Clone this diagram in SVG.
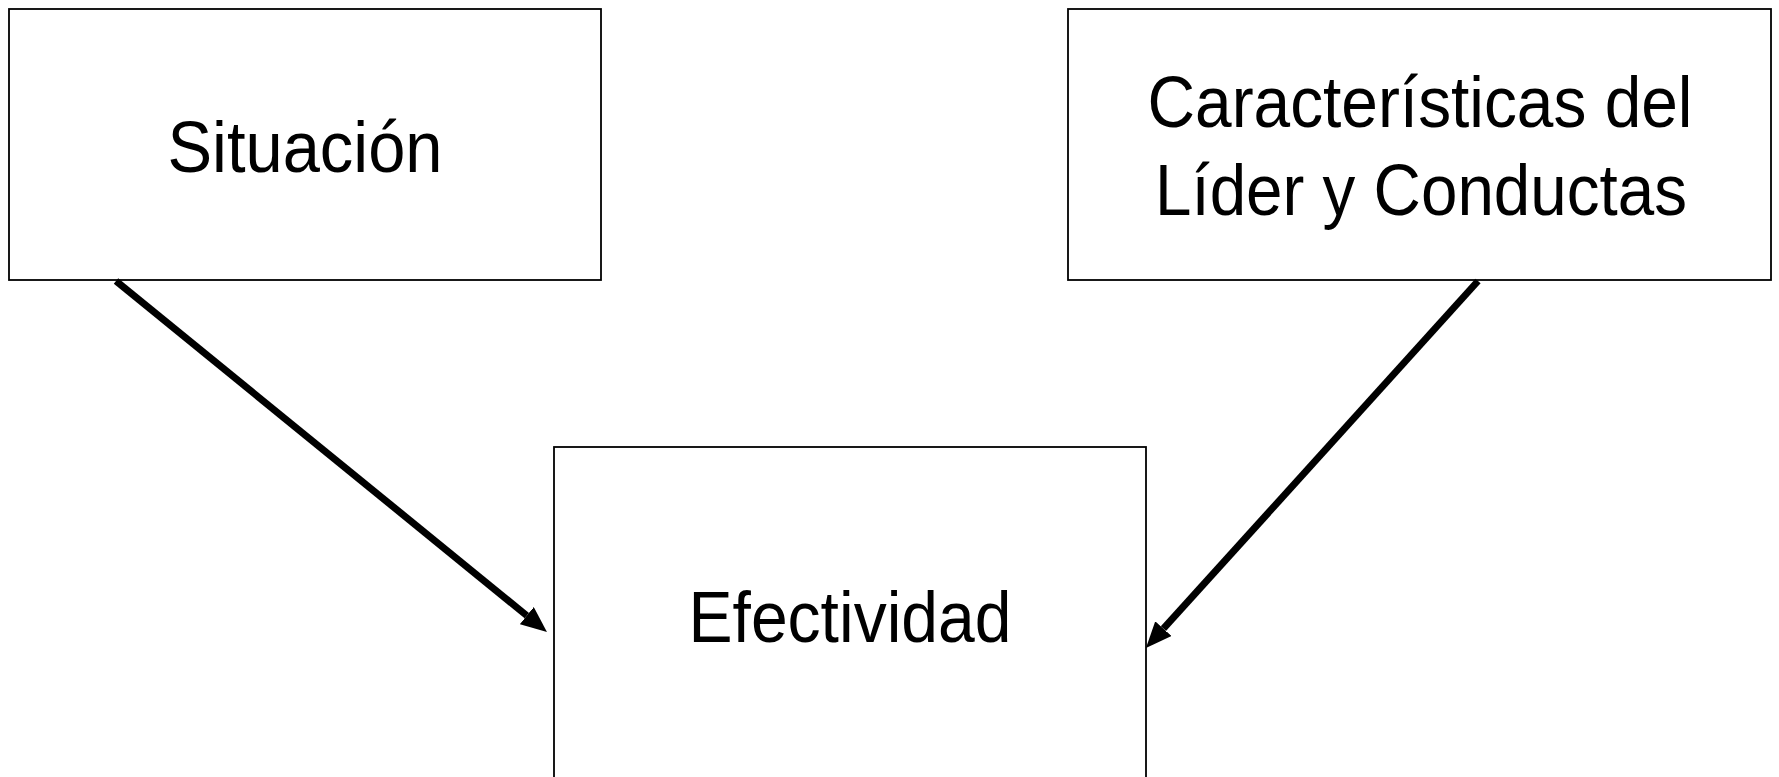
<svg xmlns="http://www.w3.org/2000/svg" width="1779" height="777" viewBox="0 0 1779 777">
<style>
.box{fill:#fff;stroke:#000;stroke-width:1.8}
.lbl{font-family:"Liberation Sans",Arial,sans-serif;font-size:72px;fill:#000;text-anchor:middle}
.conn{stroke:#000;stroke-width:7;fill:none}
</style>
<defs>
<marker id="ah" markerUnits="userSpaceOnUse" viewBox="0 0 26 22" markerWidth="26" markerHeight="22" refX="0" refY="11" orient="auto">
<path d="M0,0 L26,11 L0,22 z" fill="#000"/>
</marker>
</defs>
<rect width="1779" height="777" fill="#fff"/>
<g id="node-situacion">
<rect class="box" x="9" y="9" width="592" height="271"/>
<text class="lbl" x="305" y="172" textLength="275" lengthAdjust="spacingAndGlyphs">Situación</text>
</g>
<g id="node-caracteristicas">
<rect class="box" x="1068" y="9" width="703" height="271"/>
<text class="lbl" x="1420" y="127" textLength="545" lengthAdjust="spacingAndGlyphs">Características del</text>
<text class="lbl" x="1421" y="215" textLength="532" lengthAdjust="spacingAndGlyphs">Líder y Conductas</text>
</g>
<g id="node-efectividad">
<rect class="box" x="554" y="447" width="592" height="360"/>
<text class="lbl" x="850" y="642" textLength="323" lengthAdjust="spacingAndGlyphs">Efectividad</text>
</g>
<g id="connectors">
<line class="conn" x1="116" y1="281" x2="526.8" y2="615.6" marker-end="url(#ah)"/>
<line class="conn" x1="1478" y1="281" x2="1163.4" y2="628.7" marker-end="url(#ah)"/>
</g>
</svg>
